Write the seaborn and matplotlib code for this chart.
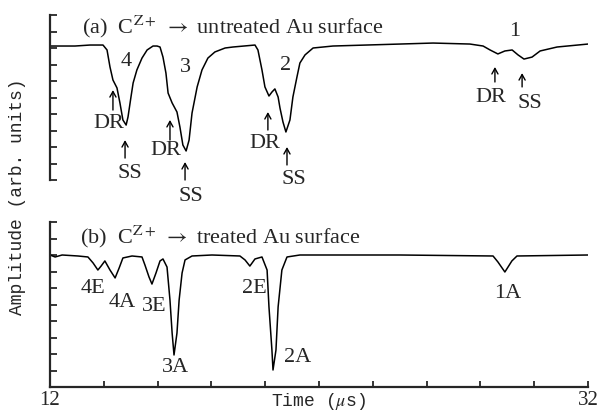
import matplotlib
matplotlib.use("Agg")
import matplotlib.pyplot as plt
import pandas as pd
import seaborn as sns

# ---------------- data ----------------
time_a = [12.00, 12.93, 13.49, 13.97, 14.12, 14.23, 14.34, 14.49, 14.60, 14.71,
          14.83, 14.90, 15.01, 15.09, 15.23, 15.42, 15.61, 15.83, 15.98, 16.09,
          16.20, 16.31, 16.39, 16.54, 16.72, 16.83, 16.94, 17.06, 17.17, 17.28,
          17.47, 17.65, 17.87, 18.13, 18.51, 18.80, 19.62, 19.73, 19.88, 19.99,
          20.14, 20.25, 20.36, 20.48, 20.55, 20.66, 20.77, 20.92, 21.03, 21.18,
          21.29, 21.48, 21.78, 22.52, 25.01, 26.24, 27.61, 28.10, 28.36, 28.65,
          28.91, 29.18, 29.40, 29.62, 29.92, 30.22, 30.85, 32.00]
amp_a = [8.12, 8.12, 8.18, 8.18, 7.88, 6.85, 6.06, 5.58, 4.67, 3.64,
         3.33, 3.82, 5.03, 5.88, 6.67, 7.39, 7.88, 8.12, 8.12, 8.06,
         7.45, 6.48, 5.27, 4.67, 4.12, 3.21, 2.12, 1.76, 2.42, 4.06,
         5.64, 6.67, 7.39, 7.76, 8.00, 8.06, 8.18, 7.88, 6.67, 5.64,
         5.09, 5.33, 5.52, 5.03, 4.36, 3.52, 2.91, 3.64, 5.03, 6.24,
         7.09, 7.58, 8.00, 8.12, 8.24, 8.30, 8.24, 8.12, 7.88, 7.64,
         7.82, 7.88, 7.58, 7.33, 7.45, 7.82, 8.06, 8.24]

time_b = [12.00, 12.19, 12.45, 13.04, 13.41, 13.60, 13.78, 13.90, 14.04, 14.23,
          14.42, 14.57, 14.71, 15.05, 15.42, 15.53, 15.68, 15.79, 15.94, 16.09,
          16.20, 16.35, 16.46, 16.54, 16.61, 16.72, 16.80, 16.91, 17.02, 17.28,
          18.02, 19.06, 19.25, 19.43, 19.62, 19.88, 20.07, 20.14, 20.25, 20.29,
          20.40, 20.48, 20.62, 20.81, 21.29, 25.01, 28.47, 28.65, 28.91, 29.17,
          29.36, 32.00]
amp_b = [8.00, 7.88, 8.00, 7.94, 7.88, 7.52, 7.09, 7.33, 7.64, 7.09,
         6.61, 7.21, 7.82, 7.94, 7.88, 7.39, 6.67, 6.24, 6.91, 7.64,
         7.76, 7.27, 5.27, 3.27, 1.94, 3.27, 5.27, 6.91, 7.70, 7.94,
         8.00, 7.94, 7.70, 7.33, 7.76, 7.88, 7.09, 4.85, 2.24, 1.03,
         2.24, 4.85, 7.09, 7.88, 8.00, 8.00, 7.94, 7.58, 6.97, 7.64,
         7.94, 8.00]

# peak labels (text, time, amplitude)
labels_a = [("4", 14.83, 7.21), ("3", 17.02, 6.79), ("2", 20.74, 6.91), ("1", 29.29, 8.97),
            ("DR", 14.19, 3.45), ("SS", 14.97, 0.42), ("DR", 16.31, 1.76), ("SS", 17.22, -0.97),
            ("DR", 19.99, 2.24), ("SS", 21.07, 0.00), ("DR", 28.39, 5.03), ("SS", 29.84, 4.61)]
# arrows (time, tip amplitude, tail amplitude)
arrows_a = [(14.34, 5.45, 4.24), (14.79, 2.42, 1.33), (16.46, 3.64, 2.42), (17.02, 1.09, 0.0),
            (20.10, 4.12, 3.03), (20.81, 2.00, 0.91), (28.54, 6.85, 5.94), (29.55, 6.48, 5.64)]
labels_b = [("4E", 13.60, 6.00), ("4A", 14.68, 5.15), ("3E", 15.87, 4.85), ("3A", 16.68, 1.21),
            ("2E", 19.58, 6.00), ("2A", 21.22, 1.76), ("1A", 29.03, 5.64)]

title_a = r"(a)  C$^{\mathrm{Z+}}$ $\rightarrow$ untreated Au surface"
title_b = r"(b)  C$^{\mathrm{Z+}}$ $\rightarrow$ treated Au surface"
x_ticks = [12, 14, 16, 18, 20, 22, 24, 26, 28, 30, 32]
x_ticklabels = ["12", "", "", "", "", "", "", "", "", "", "32"]
y_ticks = list(range(0, 11))
xlabel = r"Time ($\mu$s)"
ylabel = "Amplitude (arb. units)"

# ---------------- plotting ----------------
sns.set_style("ticks")
plt.rcParams["font.family"] = ["Liberation Serif", "DejaVu Serif"]
plt.rcParams["mathtext.fontset"] = "stix"

fig = plt.figure(figsize=(6.05, 4.12), dpi=100)
ax_a = fig.add_axes([50 / 605, 1 - 180 / 412, 538 / 605, 165 / 412])
ax_b = fig.add_axes([50 / 605, 1 - 387 / 412, 538 / 605, 165 / 412])

df_a = pd.DataFrame({"time": time_a, "amp": amp_a})
df_b = pd.DataFrame({"time": time_b, "amp": amp_b})
sns.lineplot(data=df_a, x="time", y="amp", ax=ax_a, color="black", lw=1.1,
             estimator=None, sort=False)
sns.lineplot(data=df_b, x="time", y="amp", ax=ax_b, color="black", lw=1.1,
             estimator=None, sort=False)

for ax in (ax_a, ax_b):
    ax.set_xlim(12, 32)
    ax.set_ylim(0, 10)
    ax.set_yticks(y_ticks)
    ax.tick_params(axis="y", direction="in", length=5, width=1.3, labelleft=False)
    ax.set_xlabel("")
    ax.set_ylabel("")
    for s in ("top", "right"):
        ax.spines[s].set_visible(False)
    ax.spines["left"].set_linewidth(1.6)
    ax.set_facecolor("white")

ax_a.spines["bottom"].set_visible(False)
ax_a.set_xticks([])
ax_b.spines["bottom"].set_linewidth(1.6)
ax_b.set_xticks(x_ticks)
ax_b.set_xticklabels(x_ticklabels)
ax_b.tick_params(axis="x", direction="in", length=4, width=1.3, labelsize=15, pad=3)

ax_a.text(13.19, 8.91, title_a, fontsize=16, ha="left", va="baseline")
ax_b.text(13.12, 8.73, title_b, fontsize=16, ha="left", va="baseline")

for txt, t, v in labels_a:
    ax_a.text(t, v, txt, fontsize=16, ha="center", va="center", clip_on=False)
for t, tip, tail in arrows_a:
    ax_a.annotate("", xy=(t, tip), xytext=(t, tail), annotation_clip=False,
                  arrowprops=dict(arrowstyle="->,head_length=0.4,head_width=0.22",
                                  lw=1.0, color="black", shrinkA=0, shrinkB=0))
for txt, t, v in labels_b:
    ax_b.text(t, v, txt, fontsize=16, ha="center", va="center", clip_on=False)

fig.text(318 / 605, 1 - 401 / 412, xlabel, fontsize=13, ha="center", va="center",
         family=["Liberation Mono", "DejaVu Sans Mono"])
fig.text(18 / 605, 1 - 197 / 412, ylabel, fontsize=13, ha="center", va="center",
         rotation=90, family=["Liberation Mono", "DejaVu Sans Mono"])

fig.savefig("out.png", dpi=100, facecolor="white")
